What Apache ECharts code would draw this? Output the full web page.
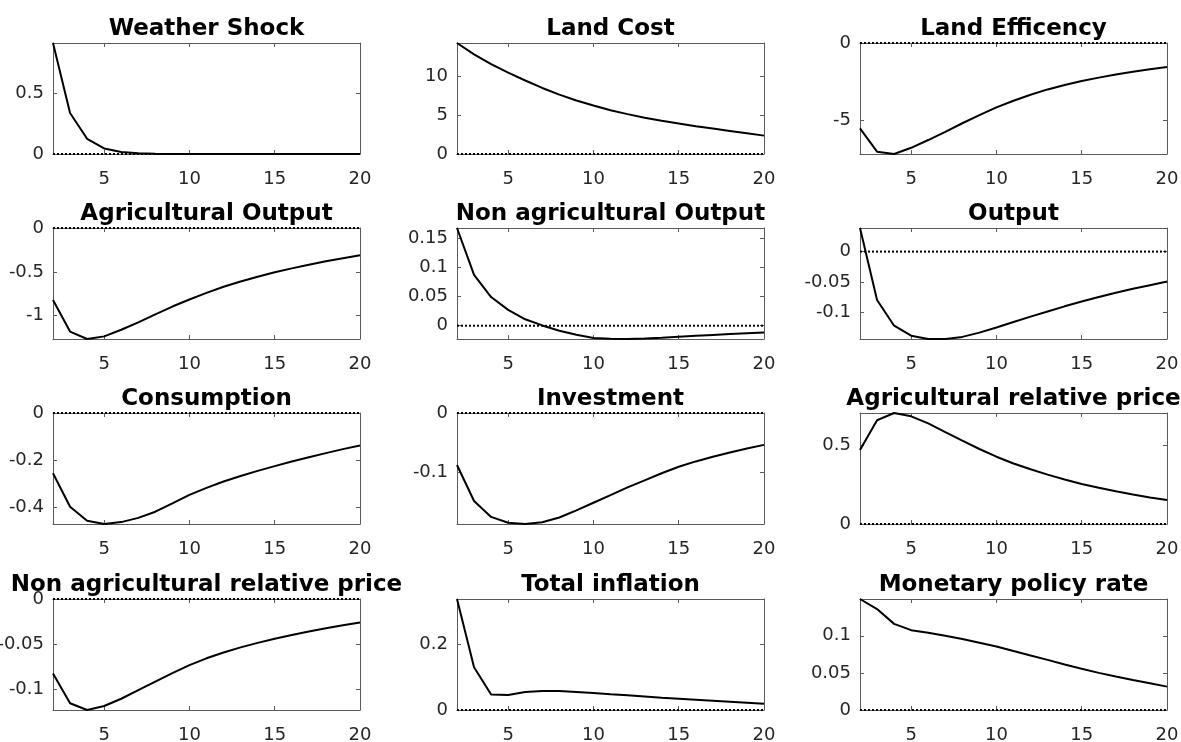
<!DOCTYPE html>
<html>
<head>
<meta charset="utf-8">
<script src="https://cdn.jsdelivr.net/npm/echarts@6/dist/echarts.min.js"></script>
<style>
  html, body { margin: 0; padding: 0; background: #fff; }
  #chart { width: 1181px; height: 742px; }
</style>
</head>
<body>
<div id="chart"></div>
<script>
// horizon (periods after the shock)
const steps = [2, 3, 4, 5, 6, 7, 8, 9, 10, 11, 12, 13, 14, 15, 16, 17, 18, 19, 20]
const xTicks = [5, 10, 15, 20]

// impulse responses
const weatherShock = [0.912, 0.337, 0.125, 0.046, 0.017, 0.0063, 0.0023, 0.0009, 0.0003, 0.0001, 0, 0, 0, 0, 0, 0, 0, 0, 0]
const landCost = [14.2, 12.75, 11.5, 10.4, 9.4, 8.45, 7.6, 6.85, 6.2, 5.6, 5.1, 4.65, 4.25, 3.9, 3.55, 3.25, 2.95, 2.65, 2.35]
const landEfficiency = [-5.5, -7.0, -7.15, -6.75, -6.25, -5.72, -5.17, -4.65, -4.15, -3.72, -3.33, -2.99, -2.7, -2.45, -2.23, -2.03, -1.85, -1.69, -1.55]
const agOutput = [-0.82, -1.18, -1.265, -1.235, -1.16, -1.075, -0.985, -0.895, -0.815, -0.74, -0.67, -0.61, -0.555, -0.505, -0.46, -0.42, -0.38, -0.345, -0.31]
const nonAgOutput = [0.167, 0.087, 0.049, 0.027, 0.011, 0.0005, -0.0085, -0.0155, -0.021, -0.0223, -0.0227, -0.022, -0.0205, -0.0188, -0.0172, -0.0157, -0.0142, -0.0128, -0.0114]
const output = [0.039, -0.08, -0.1225, -0.139, -0.1445, -0.1445, -0.141, -0.134, -0.1255, -0.1165, -0.1075, -0.099, -0.0905, -0.0825, -0.075, -0.068, -0.0615, -0.0555, -0.0495]
const consumption = [-0.255, -0.397, -0.456, -0.47, -0.462, -0.444, -0.418, -0.383, -0.347, -0.317, -0.29, -0.267, -0.245, -0.225, -0.205, -0.187, -0.17, -0.153, -0.138]
const investment = [-0.088, -0.149, -0.176, -0.186, -0.188, -0.185, -0.177, -0.165, -0.152, -0.139, -0.126, -0.114, -0.102, -0.091, -0.082, -0.074, -0.067, -0.06, -0.054]
const agRelPrice = [0.47, 0.66, 0.706, 0.685, 0.64, 0.585, 0.53, 0.477, 0.428, 0.385, 0.348, 0.314, 0.283, 0.255, 0.23, 0.208, 0.188, 0.169, 0.152]
const nonAgRelPrice = [-0.083, -0.116, -0.1235, -0.119, -0.111, -0.1015, -0.092, -0.0825, -0.0735, -0.066, -0.0595, -0.0538, -0.0488, -0.0442, -0.04, -0.0362, -0.0326, -0.0293, -0.0262]
const inflation = [0.338, 0.13, 0.047, 0.046, 0.055, 0.058, 0.058, 0.055, 0.052, 0.048, 0.045, 0.041, 0.037, 0.034, 0.031, 0.028, 0.025, 0.022, 0.019]
const policyRate = [0.1495, 0.136, 0.116, 0.1075, 0.104, 0.1, 0.0955, 0.0905, 0.0855, 0.0795, 0.0735, 0.0675, 0.0612, 0.0555, 0.05, 0.0452, 0.0405, 0.036, 0.0315]

// panel titles and y tick labels, in reading order
const titles = [
  'Weather Shock', 'Land Cost', 'Land Efficency',
  'Agricultural Output', 'Non agricultural Output', 'Output',
  'Consumption', 'Investment', 'Agricultural relative price',
  'Non agricultural relative price', 'Total inflation', 'Monetary policy rate'
]
const values = [
  weatherShock, landCost, landEfficiency,
  agOutput, nonAgOutput, output,
  consumption, investment, agRelPrice,
  nonAgRelPrice, inflation, policyRate
]
const yTicks = [
  [0, 0.5], [0, 5, 10], [-5, 0],
  [-1, -0.5, 0], [0, 0.05, 0.1, 0.15], [-0.1, -0.05, 0],
  [-0.4, -0.2, 0], [-0.1, 0], [0, 0.5],
  [-0.1, -0.05, 0], [0, 0.2], [0, 0.05, 0.1]
]

// layout of the 4 x 3 panel grid
const colLeft = [53, 457, 860]
const rowTop = [43, 228, 413, 599]
const panelW = 307
const panelH = 111

const axisColor = '#5a5a5a'
const labelStyle = { color: '#262626', fontSize: 18, fontFamily: 'DejaVu Sans' }

const myChart = echarts.init(document.getElementById('chart'))

const grid = []
const xAxis = []
const yAxis = []
const series = []
const graphic = []

titles.forEach((title, i) => {
  const left = colLeft[i % 3]
  const top = rowTop[Math.floor(i / 3)]
  const vals = values[i]
  const ymin = Math.min(0, ...vals)
  const ymax = Math.max(0, ...vals)

  grid.push({
    left: left, top: top, width: panelW, height: panelH,
    show: false, containLabel: false, outerBoundsMode: 'none'
  })

  // bottom + top x axes, left + right y axes (box with inward ticks)
  const xBase = {
    type: 'value', gridIndex: i, min: 2, max: 20,
    splitLine: { show: false },
    axisLine: { show: true, onZero: false, lineStyle: { color: axisColor, width: 1 } },
    axisTick: { show: true, inside: true, length: 4, customValues: xTicks, lineStyle: { color: axisColor } }
  }
  xAxis.push(Object.assign({}, xBase, {
    position: 'bottom',
    axisLabel: Object.assign({ show: true, margin: 16, customValues: xTicks }, labelStyle)
  }))
  xAxis.push(Object.assign({}, xBase, {
    position: 'top',
    axisLabel: { show: false }
  }))

  const yBase = {
    type: 'value', gridIndex: i, min: ymin, max: ymax, scale: true,
    splitLine: { show: false },
    axisLine: { show: true, onZero: false, lineStyle: { color: axisColor, width: 1 } },
    axisTick: { show: true, inside: true, length: 4, customValues: yTicks[i], lineStyle: { color: axisColor } }
  }
  yAxis.push(Object.assign({}, yBase, {
    position: 'left',
    axisLabel: Object.assign({ show: true, margin: 9, customValues: yTicks[i] }, labelStyle)
  }))
  yAxis.push(Object.assign({}, yBase, {
    position: 'right',
    axisLabel: { show: false }
  }))

  // dotted zero reference line
  series.push({
    type: 'line',
    xAxisIndex: 2 * i,
    yAxisIndex: 2 * i,
    data: [[2, 0], [20, 0]],
    symbol: 'none',
    silent: true,
    clip: true,
    lineStyle: { color: '#000', width: 2, type: 'dotted' }
  })

  // response
  series.push({
    type: 'line',
    name: title,
    xAxisIndex: 2 * i,
    yAxisIndex: 2 * i,
    data: steps.map((s, k) => [s, vals[k]]),
    symbol: 'none',
    clip: true,
    lineStyle: { color: '#000', width: 2 }
  })

  graphic.push({
    type: 'text',
    x: left + panelW / 2,
    y: top - 14,
    style: {
      text: title,
      fill: '#000',
      font: 'bold 23px "DejaVu Sans"',
      textAlign: 'center',
      textVerticalAlign: 'middle'
    }
  })
})

const option = {
  animation: false,
  backgroundColor: '#fff',
  grid: grid,
  xAxis: xAxis,
  yAxis: yAxis,
  series: series,
  graphic: graphic
}

myChart.setOption(option)

window.addEventListener('resize', () => {
  myChart.resize()
})
</script>
</body>
</html>
